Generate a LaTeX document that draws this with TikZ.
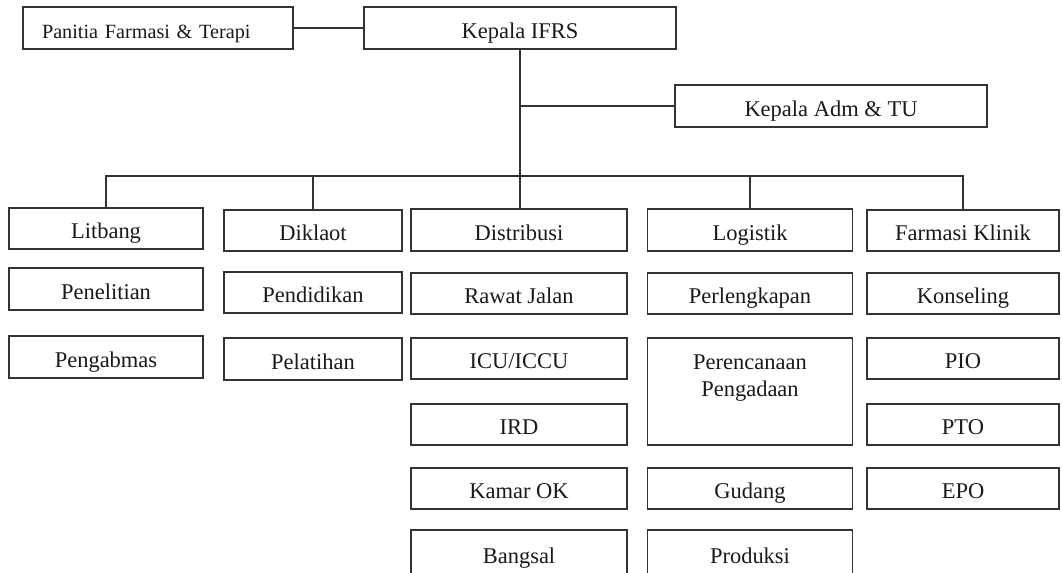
\documentclass[tikz,border=0pt]{standalone}
\usepackage{fontspec}
\setmainfont{Liberation Serif}
\usepackage{xcolor}
\usetikzlibrary{positioning, calc}

\begin{document}
\begin{tikzpicture}[
    x=0.02cm, y=-0.02cm,
    box/.style={draw=black!80, line width=1.1pt, minimum height=0.83cm, inner sep=0pt,
      font=\fontsize{12.8}{15.3}\selectfont, text=black!90, text height=11.5pt, text depth=0pt},
    colA/.style={box, minimum width=3.88cm},
    colB/.style={box, minimum width=3.56cm},
    colC/.style={box, minimum width=4.32cm},
    colD/.style={box, minimum width=4.10cm},
    colE/.style={box, minimum width=3.84cm},
    link/.style={draw=black!80, line width=1.1pt},
  ]
  \useasboundingbox (0,0) rectangle (1062,572);

  % top
  \node[box, minimum width=5.4cm, inner xsep=0.38cm, text width=4.64cm, align=left,
    font=\fontsize{11.5}{13.8}\selectfont] (panitia) at (158,28) {Panitia Farmasi \& Terapi};
  \node[box, minimum width=6.24cm] (kifrs) at (520,28) {Kepala IFRS};
  \node[box, minimum width=6.24cm] (kadm) at (831,106) {Kepala Adm \& TU};

  % Litbang
  \node[colA] (litbang) at (106,228.5) {Litbang};
  \node[colA] (penelitian) at (106,289) {Penelitian};
  \node[colA] (pengabmas) at (106,357) {Pengabmas};

  % Diklaot
  \node[colB] (diklat) at (313,230.5) {Diklaot};
  \node[colB] (pendidikan) at (313,292.5) {Pendidikan};
  \node[colB] (pelatihan) at (313,359) {Pelatihan};

  % Distribusi
  \node[colC] (distribusi) at (519,230) {Distribusi};
  \node[colC] (rawat) at (519,293.5) {Rawat Jalan};
  \node[colC] (icu) at (519,358.5) {ICU/ICCU};
  \node[colC] (ird) at (519,424.5) {IRD};
  \node[colC] (kamar) at (519,488.5) {Kamar OK};
  \node[colC, minimum height=0.92cm] (bangsal) at (519,553) {Bangsal};

  % Logistik
  \node[colD] (logistik) at (750,230) {Logistik};
  \node[colD] (perlengkapan) at (750,293.5) {Perlengkapan};
  \node[colD, minimum height=2.14cm] (perencanaan) at (750,391.5) {};
  \node[font=\fontsize{12.8}{15.3}\selectfont, text=black!90, align=center, inner sep=0pt,
    below=0.34cm of perencanaan.north] (perencanaan-txt) {Perencanaan\\Pengadaan};
  \node[colD] (gudang) at (750,488.5) {Gudang};
  \node[colD, minimum height=0.92cm] (produksi) at (750,553) {Produksi};

  % Farmasi Klinik
  \node[colE] (farmasi) at (963,230.5) {Farmasi Klinik};
  \node[colE] (konseling) at (963,293.5) {Konseling};
  \node[colE] (pio) at (963,358.5) {PIO};
  \node[colE] (pto) at (963,424.5) {PTO};
  \node[colE] (epo) at (963,488.5) {EPO};

  % connectors
  \coordinate (bus) at (0,176);
  \draw[link] (panitia.east) -- (panitia.east -| kifrs.west);
  \draw[link] (kifrs.south) -- (kifrs.south |- distribusi.north);
  \draw[link] (kifrs.south |- kadm.west) -- (kadm.west);
  \draw[link] (litbang.north) |- (farmasi.north |- bus) -- (farmasi.north);
  \draw[link] (diklat.north) -- (diklat.north |- bus);
  \draw[link] (logistik.north) -- (logistik.north |- bus);
\end{tikzpicture}
\end{document}
